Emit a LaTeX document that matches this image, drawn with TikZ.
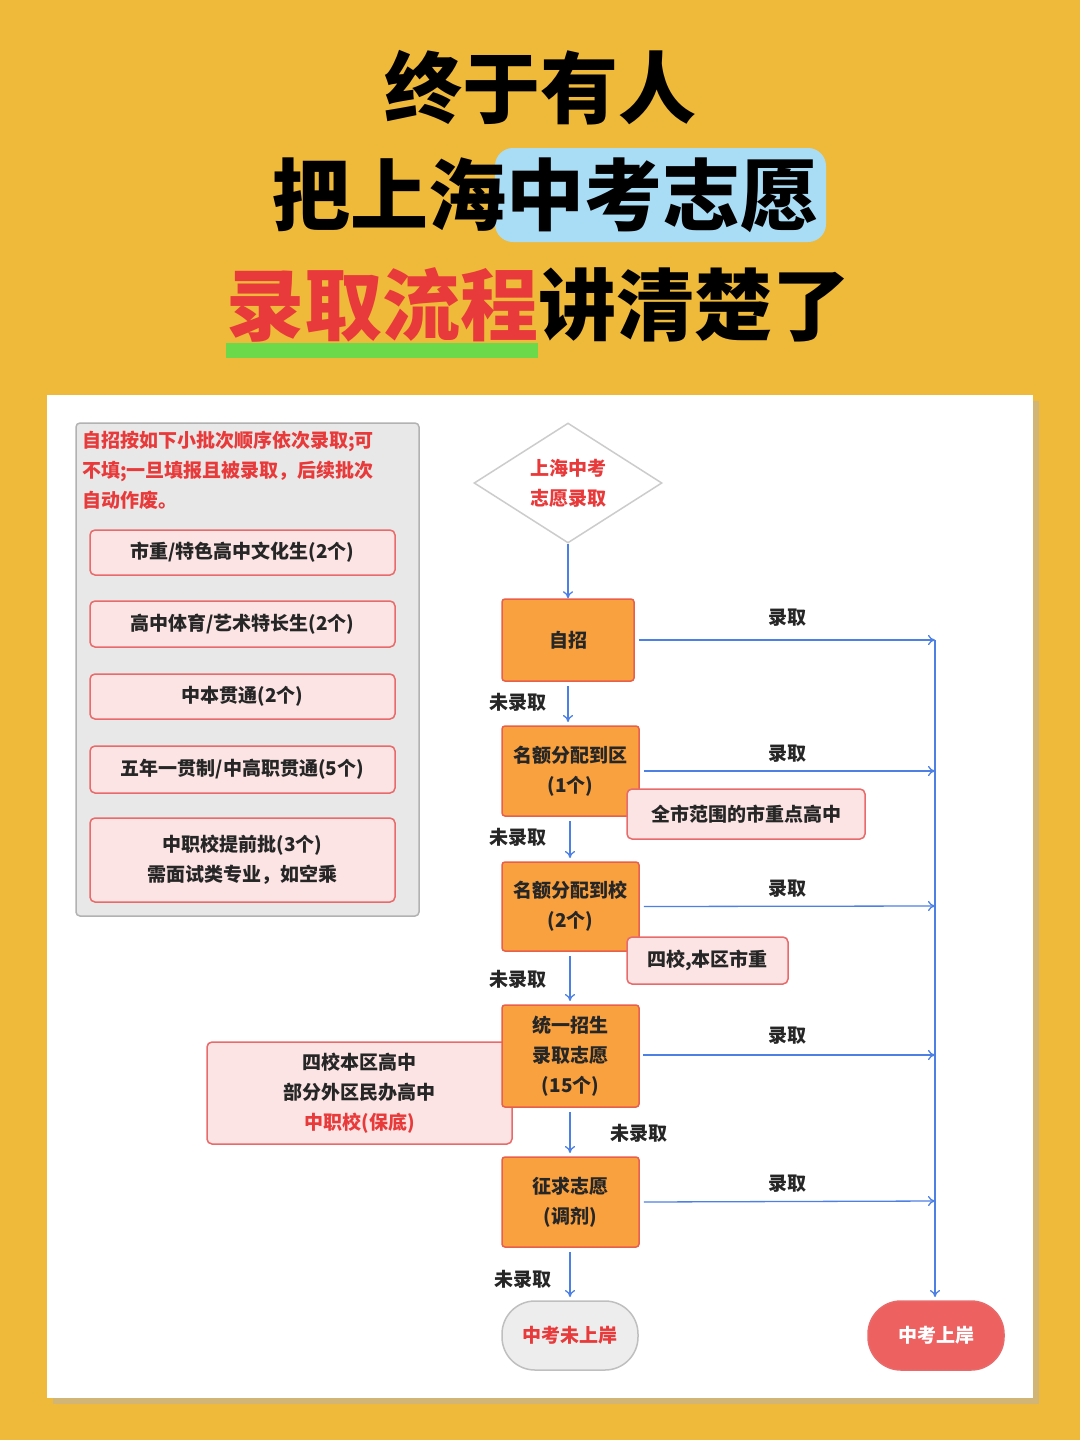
\documentclass[tikz,border=0pt]{standalone}
\usepackage{fontspec}
\setmainfont{Noto Sans CJK SC}
\usetikzlibrary{shapes.geometric,arrows.meta,shadows}
\definecolor{bgc}{HTML}{EFB93A}
\definecolor{blu}{HTML}{4D80E4}
\definecolor{org}{HTML}{F9A13F}
\definecolor{orb}{HTML}{E8604C}
\definecolor{pnk}{HTML}{FCE4E4}
\definecolor{pkb}{HTML}{E86A6A}
\definecolor{rd}{HTML}{E83A3A}
\definecolor{hl}{HTML}{A9DDF5}
\definecolor{grn}{HTML}{6BD94A}
\tikzset{
 ob/.style={draw=orb,fill=org,line width=1.5pt,rounded corners=3pt,align=center,font=\fontsize{19}{30}\selectfont\bfseries,text=black!85},
 pb/.style={draw=pkb,fill=pnk,line width=1.5pt,rounded corners=5pt,align=center,font=\fontsize{19}{30}\selectfont\bfseries,text=black!85},
 ar/.style={draw=blu,line width=1.3pt,-{To[length=7pt,width=10pt]}},
 ln/.style={draw=blu,line width=1.3pt},
 lb/.style={font=\fontsize{19}{22}\selectfont\bfseries,text=black!85},
 tt/.style={font=\fontsize{78}{80}\selectfont\bfseries}
}
\begin{document}
\begin{tikzpicture}[x=1pt,y=-1pt]
\fill[bgc] (0,0) rectangle (1080,1440);
\useasboundingbox (0,0) rectangle (1080,1440);
% title
\fill[hl,rounded corners=18pt] (495,148) rectangle (826,242);
\fill[grn] (226,343) rectangle (538,358);
\node[tt] (t1) at (540,88) {终于有人};
\node[tt] (t2) at (545,195) {把上海中考志愿};
\node[tt] (t3) at (538,305) {\textcolor{rd}{录取流程}讲清楚了};
% panel
\fill[black!30,opacity=0.5] (53,401) rectangle (1039,1404);
\fill[white] (47,395) rectangle (1033,1398);
% left gray box
\draw[fill=black!9,draw=black!30,line width=1.5pt,rounded corners=4pt] (76,423) rectangle (419,916);
\node[anchor=north west,align=left,text=rd,font=\fontsize{19}{30}\selectfont\bfseries,inner sep=0] (lt) at (82,431) {自招按如下小批次顺序依次录取;可\\不填;一旦填报且被录取，后续批次\\自动作废。};
\node[pb,minimum width=305pt,minimum height=45pt] (l1) at (242.5,552.5) {市重/特色高中文化生(2个)};
\node[pb,minimum width=305pt,minimum height=46pt] (l2) at (242.5,624) {高中体育/艺术特长生(2个)};
\node[pb,minimum width=305pt,minimum height=45pt] (l3) at (242.5,696.5) {中本贯通(2个)};
\node[pb,minimum width=305pt,minimum height=47pt] (l4) at (242.5,769.5) {五年一贯制/中高职贯通(5个)};
\node[pb,minimum width=305pt,minimum height=84pt] (l5) at (242.5,860) {中职校提前批(3个)\\需面试类专业，如空乘};
% diamond
\node[diamond,draw=black!20,line width=1.5pt,fill=white,minimum width=188pt,minimum height=120pt,aspect=1.57,inner sep=0,align=center,text=rd,font=\fontsize{19}{30}\selectfont\bfseries] (d) at (568,483) {上海中考\\志愿录取};
% orange boxes
\node[ob,minimum width=132pt,minimum height=82pt] (b1) at (568,640) {自招};
\node[ob,minimum width=137pt,minimum height=90pt] (b2) at (570.5,771) {名额分配到区\\(1个)};
\node[ob,minimum width=137pt,minimum height=89pt] (b3) at (570.5,906.5) {名额分配到校\\(2个)};
\node[pb,minimum width=305pt,minimum height=102pt] (lb5) at (359.5,1093) {四校本区高中\\部分外区民办高中\\\textcolor{rd}{中职校(保底)}};
\node[ob,minimum width=137pt,minimum height=102pt] (b4) at (570.5,1056) {统一招生\\录取志愿\\(15个)};
\node[ob,minimum width=137pt,minimum height=90pt] (b5) at (570.5,1202) {征求志愿\\(调剂)};
\node[pb,minimum width=238pt,minimum height=50pt] (p1) at (746,814) {全市范围的市重点高中};
\node[pb,minimum width=161pt,minimum height=47pt] (p2) at (707.5,960.5) {四校,本区市重};
\node[draw=black!25,fill=black!7,line width=1.5pt,rounded corners=33pt,minimum width=136pt,minimum height=69pt,text=rd,font=\fontsize{19}{22}\selectfont\bfseries] (e1) at (570,1335.5) {中考未上岸};
\node[draw=pkb,fill=rd!80,line width=1.5pt,rounded corners=33pt,minimum width=136pt,minimum height=69pt,text=white,font=\fontsize{19}{22}\selectfont\bfseries] (e2) at (936,1335.5) {中考上岸};
% vertical arrows
\draw[ar] (d.south) -- (b1.north);
\coordinate (a1s) at (568,686); \coordinate (a1e) at (568,722);
\coordinate (a2s) at (570,821); \coordinate (a2e) at (570,858);
\coordinate (a3s) at (570,956); \coordinate (a3e) at (570,1001);
\coordinate (a4s) at (570,1112); \coordinate (a4e) at (570,1153);
\coordinate (a5s) at (570,1252); \coordinate (a5e) at (570,1297);
\draw[ar] (a1s) -- (a1e); \draw[ar] (a2s) -- (a2e); \draw[ar] (a3s) -- (a3e);
\draw[ar] (a4s) -- (a4e); \draw[ar] (a5s) -- (a5e);
\node[lb] (n1) at (518,702) {未录取};
\node[lb] (n2) at (518,837) {未录取};
\node[lb] (n3) at (518,979) {未录取};
\node[lb] (n4) at (639,1133) {未录取};
\node[lb] (n5) at (523,1279) {未录取};
% right arrows
\coordinate (r1) at (935,640); \coordinate (r2) at (935,771); \coordinate (r3) at (935,906);
\coordinate (r4) at (935,1055); \coordinate (r5) at (935,1201);
\draw[ar] (b1.east) ++(4,0) -- (r1);
\draw[ar] (b2.east) ++(4,0) -- (r2);
\draw[ar] (b3.east) ++(4,0) -- (r3);
\draw[ar] (639,1055) ++(4,0) -- (r4);
\draw[ar] (b5.east) ++(4,0) -- (r5);
\draw[ar] (r1) -- (935,1297);
\node[lb] (y1) at (787,618) {录取};
\node[lb] (y2) at (787,754) {录取};
\node[lb] (y3) at (787,889) {录取};
\node[lb] (y4) at (787,1036) {录取};
\node[lb] (y5) at (787,1184) {录取};
\end{tikzpicture}
\end{document}
